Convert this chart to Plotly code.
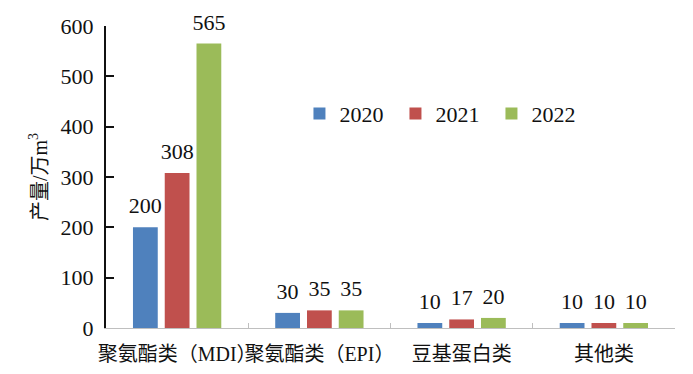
import plotly.graph_objects as go

categories = ["聚氨酯类（MDI）", "聚氨酯类（EPI）", "豆基蛋白类", "其他类"]
years = ["2020", "2021", "2022"]
values_2020 = [200, 30, 10, 10]
values_2021 = [308, 35, 17, 10]
values_2022 = [565, 35, 20, 10]
colors = ["#4F81BD", "#C0504D", "#9BBB59"]
y_ticks = [0, 100, 200, 300, 400, 500, 600]

FONT = "Liberation Serif, Noto Sans CJK SC"
NUMFONT = "Liberation Serif"
BODY = 8  # default page margin of the html body

fig = go.Figure()
for i, (name, vals, col) in enumerate(zip(years, [values_2020, values_2021, values_2022], colors)):
    fig.add_trace(go.Bar(
        x=categories, y=vals, name=name, offsetgroup=str(i),
        marker=dict(color=col, line=dict(width=0)),
        cliponaxis=False,
    ))
for i, vals in enumerate([values_2020, values_2021, values_2022]):
    fig.add_trace(go.Scatter(
        x=categories, y=vals, mode="markers+text", offsetgroup=str(i),
        text=[str(v) for v in vals], textposition="top center",
        marker=dict(size=12, color="rgba(0,0,0,0)", line=dict(width=0)),
        textfont=dict(family=NUMFONT, size=22, color="#111"),
        showlegend=False, hoverinfo="skip", cliponaxis=False,
    ))

fig.update_layout(
    width=693 - BODY, height=374 - BODY,
    margin=dict(l=106 - BODY, r=18, t=26 - BODY, b=46, autoexpand=False),
    paper_bgcolor="white", plot_bgcolor="white",
    barmode="group", bargap=0.33, bargroupgap=0.22,
    scattermode="group", scattergap=0.33,
    font=dict(family=FONT, size=21, color="#111"),
    legend=dict(
        orientation="h", x=0.34, y=0.71, xanchor="left", yanchor="middle",
        font=dict(family=NUMFONT, size=22, color="#111"),
        bgcolor="rgba(0,0,0,0)", entrywidth=51, entrywidthmode="pixels",
        itemclick=False,
    ),
    showlegend=True,
)
fig.update_xaxes(
    showline=True, linecolor="#BFBFBF", linewidth=1,
    ticks="inside", tickson="boundaries", ticklen=5, tickcolor="#BFBFBF",
    tickangle=0, ticklabelstandoff=8,
    tickfont=dict(family=FONT, size=20, color="#111"),
    showgrid=False, zeroline=False,
)
fig.update_yaxes(
    range=[0, 600], tickvals=y_ticks,
    showline=True, linecolor="#111", linewidth=2,
    ticks="inside", ticklen=8, tickcolor="#111", tickwidth=1.5,
    ticklabelstandoff=6,
    tickfont=dict(family=NUMFONT, size=22, color="#111"),
    showgrid=False, zeroline=False,
    title=dict(text="产量/万m<sup>3</sup>", standoff=8,
               font=dict(family=FONT, size=20, color="#111")),
)

fig.write_html("out.html")
